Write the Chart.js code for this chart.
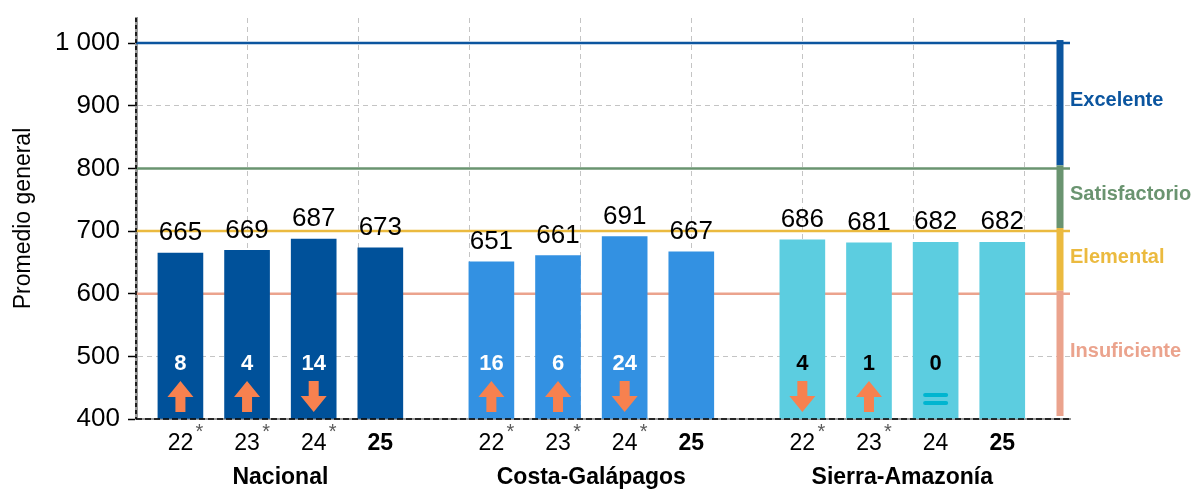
<!DOCTYPE html>
<html>
<head>
<meta charset="utf-8">
<script src="https://cdn.jsdelivr.net/npm/chart.js@4.4.1/dist/chart.umd.min.js"></script>
<style>
  html, body { margin: 0; padding: 0; background: #ffffff; }
  #wrap { width: 1200px; height: 489px; }
</style>
</head>
<body>
<div id="wrap"><canvas id="c" width="1200" height="489"></canvas></div>
<script>
// ---------------- DATA ----------------
const groups = ['Nacional', 'Costa-Galápagos', 'Sierra-Amazonía'];
const years = ['22', '23', '24', '25'];
const nacional = [665, 669, 687, 673];
const costa = [651, 661, 691, 667];
const sierra = [686, 681, 682, 682];
// difference vs 2025 and direction ('up', 'down', 'eq', null)
const diffNacional = [8, 4, 14, null];
const dirNacional = ['up', 'up', 'down', null];
const diffCosta = [16, 6, 24, null];
const dirCosta = ['up', 'up', 'down', null];
const diffSierra = [4, 1, 0, null];
const dirSierra = ['down', 'up', 'eq', null];
// significance marks (asterisk) per year label
const sigNacional = [true, true, true, false];
const sigCosta = [true, true, true, false];
const sigSierra = [true, true, false, false];
const yTicks = [400, 500, 600, 700, 800, 900, 1000];
const levelNames = ['Excelente', 'Satisfactorio', 'Elemental', 'Insuficiente'];
const levelUpper = [1000, 800, 700, 600];
const levelLower = [800, 700, 600, 400];
const yTitle = 'Promedio general';

// ---------------- STYLE ----------------
const FONT = '"Liberation Sans", Arial, Helvetica, sans-serif';
const groupColors = ['#00519A', '#3391E2', '#5CCDE0'];
const innerTextColors = ['#ffffff', '#ffffff', '#000000'];
const levelColors = ['#0B559F', '#6A9470', '#EBBA3F', '#EBA38D'];
const arrowColor = '#F7814F';
const equalColor = '#00B5D0';
const Y_MIN = 400, Y_MAX = 1040;
const X_MIN = 0, X_MAX = 8.41;
const GROUP_START = 0.4, GROUP_STEP = 2.8, BAR_STEP = 0.6, BAND_X = 8.32;

const seriesValues = [nacional, costa, sierra];
const seriesDiffs = [diffNacional, diffCosta, diffSierra];
const seriesDirs = [dirNacional, dirCosta, dirSierra];
const seriesSig = [sigNacional, sigCosta, sigSierra];

function posOf(g, i) { return GROUP_START + GROUP_STEP * g + BAR_STEP * i; }

const datasets = groups.map((name, g) => ({
  label: name,
  data: seriesValues[g].map((v, i) => ({ x: posOf(g, i), y: v })),
  backgroundColor: groupColors[g],
  borderWidth: 0,
  barThickness: 45,
  grouped: false,
  base: Y_MIN
}));

const barPositions = [];
const barLabels = [];
groups.forEach((gname, g) => years.forEach((yr, i) => { barPositions.push(posOf(g, i)); barLabels.push(yr); }));

function fmt(v) { return String(v).replace(/\B(?=(\d{3})+(?!\d))/g, ' '); }

function drawArrow(ctx, cx, top, base, dir) {
  const headW = 13, shaftW = 5, headH = 16;
  ctx.beginPath();
  if (dir === 'up') {
    ctx.moveTo(cx, top);
    ctx.lineTo(cx + headW, top + headH);
    ctx.lineTo(cx + shaftW, top + headH);
    ctx.lineTo(cx + shaftW, base);
    ctx.lineTo(cx - shaftW, base);
    ctx.lineTo(cx - shaftW, top + headH);
    ctx.lineTo(cx - headW, top + headH);
  } else {
    ctx.moveTo(cx, base);
    ctx.lineTo(cx + headW, base - headH);
    ctx.lineTo(cx + shaftW, base - headH);
    ctx.lineTo(cx + shaftW, top);
    ctx.lineTo(cx - shaftW, top);
    ctx.lineTo(cx - shaftW, base - headH);
    ctx.lineTo(cx - headW, base - headH);
  }
  ctx.closePath();
  ctx.fillStyle = arrowColor;
  ctx.fill();
}

function roundRect(ctx, x, y, w, h, r) {
  ctx.beginPath();
  ctx.moveTo(x + r, y);
  ctx.lineTo(x + w - r, y);
  ctx.arc(x + w - r, y + r, r, -Math.PI / 2, Math.PI / 2);
  ctx.lineTo(x + r, y + h);
  ctx.arc(x + r, y + r, r, Math.PI / 2, Math.PI * 1.5);
  ctx.closePath();
  ctx.fill();
}

const overlay = {
  id: 'overlay',
  beforeDatasetsDraw(chart) {
    const { ctx, chartArea: a, scales: { y } } = chart;
    ctx.save();
    levelUpper.forEach((v, i) => {
      const py = y.getPixelForValue(v);
      ctx.strokeStyle = levelColors[i];
      ctx.lineWidth = 2.5;
      ctx.beginPath();
      ctx.moveTo(a.left, py);
      ctx.lineTo(a.right, py);
      ctx.stroke();
    });
    ctx.restore();
  },
  afterDatasetsDraw(chart) {
    const { ctx, chartArea: a, scales: { x, y } } = chart;
    ctx.save();
    // dashed axis overlays
    ctx.strokeStyle = '#000000';
    ctx.lineWidth = 1.6;
    ctx.setLineDash([4, 3]);
    ctx.beginPath();
    ctx.moveTo(a.left, a.top);
    ctx.lineTo(a.left, a.bottom);
    ctx.stroke();
    ctx.lineWidth = 1.6;
    ctx.setLineDash([6, 3]);
    ctx.beginPath();
    ctx.moveTo(a.left, a.bottom);
    ctx.lineTo(a.right, a.bottom);
    ctx.stroke();
    ctx.setLineDash([]);

    const bottom = y.getPixelForValue(Y_MIN);
    groups.forEach((gname, g) => {
      seriesValues[g].forEach((v, i) => {
        const cx = x.getPixelForValue(posOf(g, i));
        const top = y.getPixelForValue(v);
        // value label
        ctx.fillStyle = '#000000';
        ctx.font = '26px ' + FONT;
        ctx.textAlign = 'center';
        ctx.textBaseline = 'middle';
        ctx.fillText(String(v), cx, top - 20);
        // difference number
        const d = seriesDiffs[g][i];
        if (d !== null && d !== undefined) {
          ctx.fillStyle = innerTextColors[g];
          ctx.font = 'bold 22px ' + FONT;
          ctx.fillText(String(d), cx, bottom - 55);
        }
        const dir = seriesDirs[g][i];
        if (dir === 'up' || dir === 'down') {
          drawArrow(ctx, cx, bottom - 38, bottom - 7, dir);
        } else if (dir === 'eq') {
          ctx.fillStyle = equalColor;
          roundRect(ctx, cx - 12.5, bottom - 26, 25, 4, 2);
          roundRect(ctx, cx - 12.5, bottom - 18, 25, 4, 2);
        }
        // significance asterisk
        if (seriesSig[g][i]) {
          ctx.fillStyle = '#595959';
          ctx.font = '20px ' + FONT;
          ctx.textAlign = 'center';
          ctx.textBaseline = 'alphabetic';
          ctx.fillText('*', cx + 19, bottom + 19);
        }
      });
      // group label
      const gx = (x.getPixelForValue(posOf(g, 1)) + x.getPixelForValue(posOf(g, 2))) / 2;
      ctx.fillStyle = '#000000';
      ctx.font = 'bold 23px ' + FONT;
      ctx.textAlign = 'center';
      ctx.textBaseline = 'middle';
      ctx.fillText(gname, gx, bottom + 59);
    });

    // level band on the right
    const bx = x.getPixelForValue(BAND_X);
    levelUpper.forEach((hi, i) => {
      const lo = levelLower[i];
      const yTop = y.getPixelForValue(hi) - 3;
      const yBot = y.getPixelForValue(lo) - 3;
      ctx.fillStyle = levelColors[i];
      ctx.fillRect(bx - 3.5, yTop, 7, yBot - yTop);
      ctx.font = 'bold 20px ' + FONT;
      ctx.textAlign = 'left';
      ctx.textBaseline = 'middle';
      ctx.fillText(levelNames[i], bx + 10, (yTop + yBot) / 2 - 2);
    });
    ctx.restore();
  }
};

new Chart(document.getElementById('c'), {
  type: 'bar',
  data: { datasets },
  plugins: [overlay],
  options: {
    responsive: false,
    animation: false,
    devicePixelRatio: 1,
    layout: { padding: { top: 18, right: 130, bottom: 0, left: 0 } },
    plugins: { legend: { display: false }, tooltip: { enabled: false } },
    scales: {
      x: {
        type: 'linear',
        position: 'bottom',
        min: X_MIN, max: X_MAX,
        offset: false,
        ticks: { display: false, stepSize: 1, includeBounds: false },
        grid: { color: '#C4C4C4', drawTicks: false, lineWidth: 1, offset: false },
        border: { display: true, color: '#9A9A9A', width: 2, dash: [5, 4] },
        afterFit(s) { s.height = 0; s.paddingLeft = 0; s.paddingRight = 0; }
      },
      x2: {
        type: 'linear',
        position: 'bottom',
        min: X_MIN, max: X_MAX,
        offset: false,
        afterBuildTicks(s) { s.ticks = barPositions.map(v => ({ value: v })); },
        ticks: {
          autoSkip: false,
          maxRotation: 0,
          padding: 11,
          color: '#000000',
          callback(v, idx) { return barLabels[idx]; },
          font(c) { return { family: FONT, size: 23, weight: (c.index % 4 === 3) ? 'bold' : 'normal' }; }
        },
        grid: { display: false, drawTicks: false, offset: false },
        border: { display: false },
        afterFit(s) { s.height = 70; s.paddingLeft = 0; s.paddingRight = 0; }
      },
      y: {
        type: 'linear',
        min: Y_MIN, max: Y_MAX,
        afterBuildTicks(s) { s.ticks = yTicks.map(v => ({ value: v })); },
        ticks: {
          color: '#000000',
          padding: 8,
          font: { family: FONT, size: 26 },
          callback(v) { return fmt(v); }
        },
        grid: { color: '#C4C4C4', tickLength: 8, tickColor: '#000000', tickWidth: 1.5, tickBorderDash: [20, 0] },
        border: { display: true, color: '#9A9A9A', width: 3, dash: [5, 4] },
        title: { display: true, text: yTitle, color: '#000000', font: { family: FONT, size: 23 }, padding: { top: 10, bottom: 0 } },
        afterFit(s) { s.width = 136; s.paddingTop = 0; s.paddingBottom = 0; }
      }
    }
  }
});
</script>
</body>
</html>
